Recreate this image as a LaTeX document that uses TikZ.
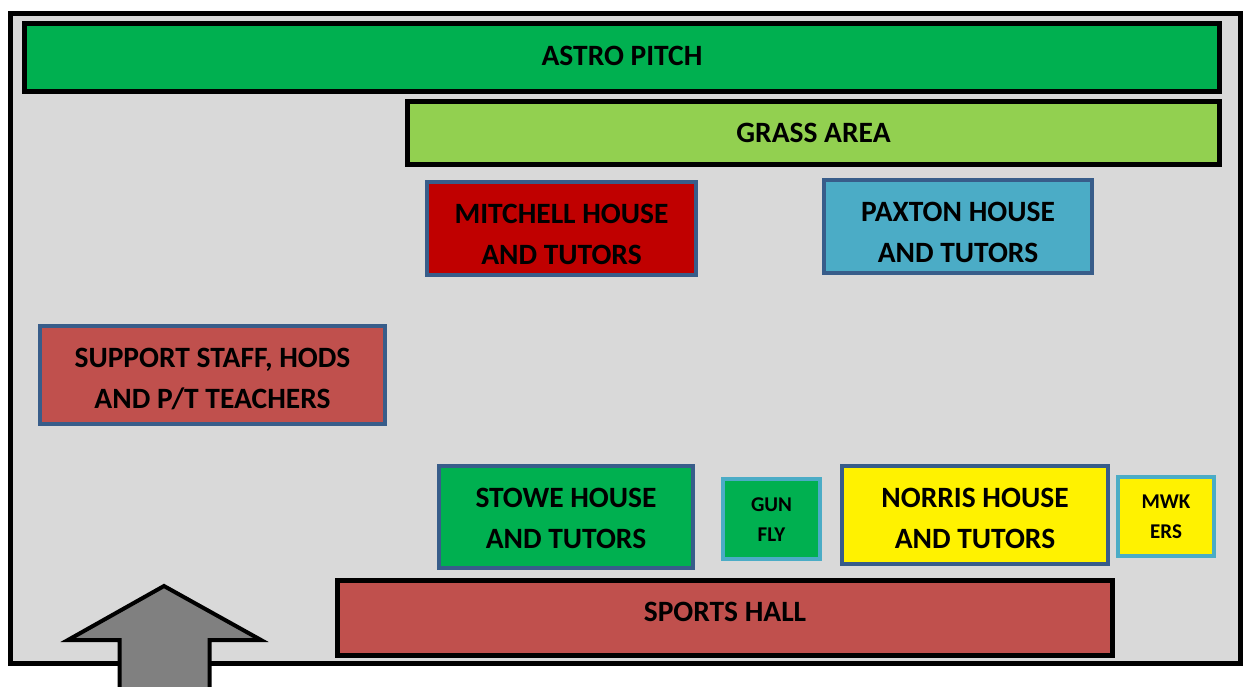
\documentclass[tikz,border=0pt]{standalone}
\usepackage{fontspec}
\setmainfont{Carlito}
\definecolor{bggray}{HTML}{D9D9D9}
\definecolor{astro}{HTML}{00B050}
\definecolor{grass}{HTML}{92D050}
\definecolor{mitch}{HTML}{C00000}
\definecolor{paxton}{HTML}{4BACC6}
\definecolor{brick}{HTML}{C0504D}
\definecolor{navyb}{HTML}{385D8A}
\definecolor{lblue}{HTML}{4BACC6}
\definecolor{arrowgray}{HTML}{808080}
\tikzset{
  area/.style={draw=black, line width=5pt, inner sep=0pt, align=center,
    font=\bfseries\fontsize{29.5}{41}\selectfont},
  house/.style={draw=navyb, line width=4pt, inner sep=0pt, align=center,
    font=\bfseries\fontsize{29.5}{41}\selectfont},
  small/.style={draw=lblue, line width=4pt, inner sep=0pt, align=center,
    font=\bfseries\fontsize{21}{30}\selectfont},
  hd/.style 2 args={text height=#1pt, text depth=#2pt},
}
\begin{document}
\begin{tikzpicture}[x=1pt,y=-1pt]
\clip (0,0) rectangle (1247,686);
\fill[white] (0,0) rectangle (1247,686);
\draw[line width=5pt, fill=bggray] (10.5,13) rectangle (1240.5,663);
\node[area, fill=astro, minimum width=1195pt, hd={41.8}{26.2}] (astro) at (622,57.5) {ASTRO PITCH};
\node[area, fill=grass, minimum width=812pt, hd={40.8}{22.2}] (grass) at (813.5,133) {GRASS AREA};
\node[house, fill=mitch, minimum width=269pt, hd={82.3}{10.7}] (mitchell) at (561.5,228.5) {MITCHELL HOUSE\\AND TUTORS};
\node[house, fill=paxton, minimum width=268pt, hd={82.3}{10.7}] (paxton) at (958,226.5) {PAXTON HOUSE\\AND TUTORS};
\node[house, fill=brick, minimum width=345pt, hd={82.3}{15.7}] (support) at (212.5,375) {SUPPORT STAFF, HODS\\AND P/T TEACHERS};
\node[house, fill=astro, minimum width=254pt, hd={82.3}{19.7}] (stowe) at (566,517) {STOWE HOUSE\\AND TUTORS};
\node[small, fill=astro, minimum width=97pt, hd={62.6}{17.4}] (gunfly) at (771.5,519) {GUN\\FLY};
\node[house, fill=yellow, minimum width=266pt, hd={82.3}{15.7}] (norris) at (975,515) {NORRIS HOUSE\\AND TUTORS};
\node[small, fill=yellow, minimum width=96pt, hd={61.6}{17.4}] (mwkers) at (1166,516.5) {MWK\\ERS};
\node[area, fill=brick, minimum width=775pt, hd={40.8}{34.2}] (sports) at (725,618) {SPORTS HALL};
\draw[line width=4pt, fill=arrowgray, line join=miter]
  (164,586) -- (68,640) -- (119.5,640) -- (119.5,700) -- (209.5,700) -- (209.5,640) -- (261,640) -- cycle;
\end{tikzpicture}
\end{document}
